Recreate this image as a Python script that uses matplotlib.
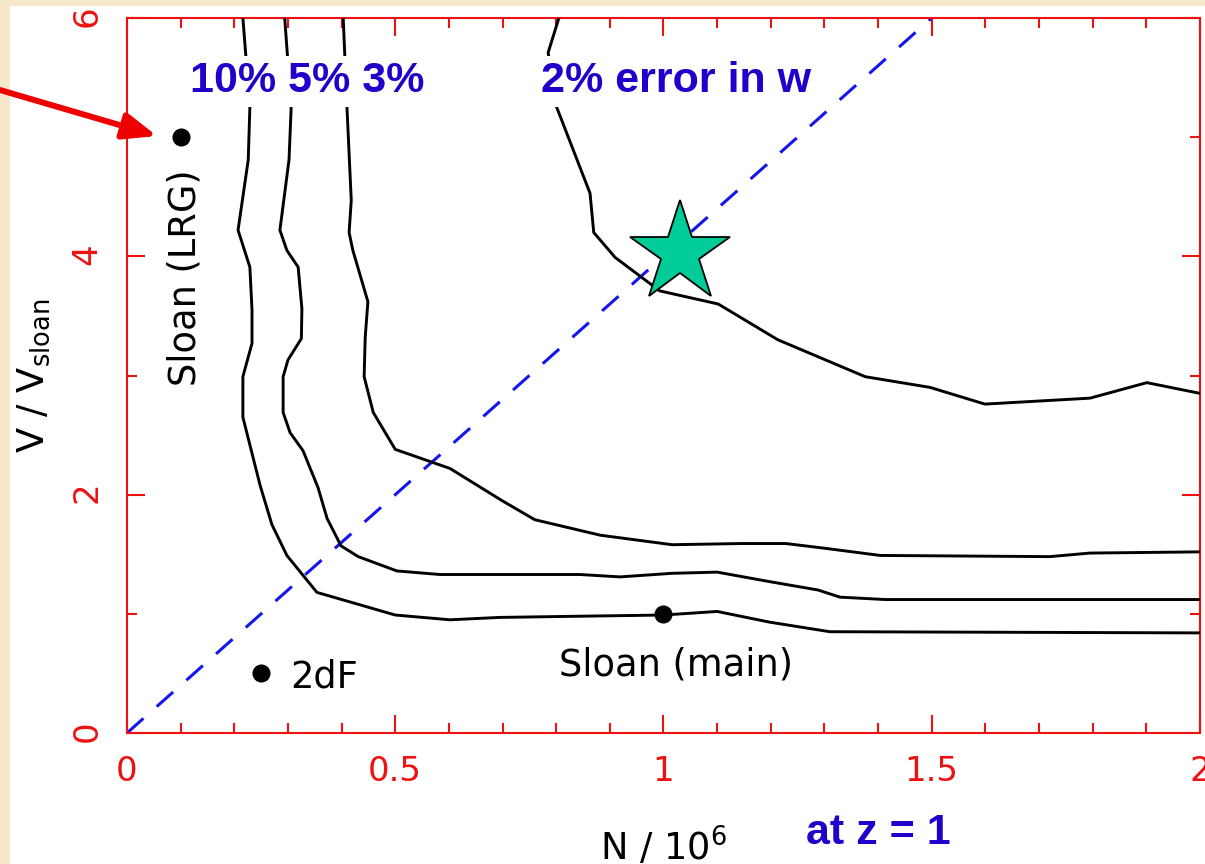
import matplotlib.pyplot as plt
from matplotlib.patches import Rectangle
from matplotlib.ticker import MultipleLocator, FuncFormatter

# Error contours for w in the survey size / volume plane (z = 1)
n_2pc = [0.805, 0.785, 0.801, 0.863, 0.870, 0.910, 0.993, 1.102, 1.213, 1.376, 1.497, 1.599, 1.795, 1.901, 2.0]
v_2pc = [6.0, 5.71, 5.25, 4.53, 4.20, 3.99, 3.71, 3.60, 3.30, 2.99, 2.90, 2.76, 2.81, 2.94, 2.85]

n_3pc = [0.403, 0.410, 0.418, 0.414, 0.421, 0.449, 0.444, 0.442, 0.459, 0.500, 0.602, 0.699, 0.760,
         0.882, 1.016, 1.146, 1.228, 1.301, 1.404, 1.720, 1.795, 2.0]
v_3pc = [6.0, 5.25, 4.47, 4.20, 4.05, 3.62, 3.32, 2.99, 2.69, 2.38, 2.22, 1.95, 1.79,
         1.66, 1.58, 1.59, 1.59, 1.55, 1.49, 1.48, 1.51, 1.52]

n_5pc = [0.294, 0.306, 0.302, 0.285, 0.298, 0.319, 0.326, 0.325, 0.300, 0.291, 0.291, 0.304, 0.328,
         0.356, 0.373, 0.399, 0.431, 0.503, 0.583, 0.844, 0.919, 1.016, 1.100, 1.198, 1.288,
         1.329, 1.413, 2.0]
v_5pc = [6.0, 5.25, 4.81, 4.22, 4.05, 3.91, 3.56, 3.31, 3.13, 2.99, 2.69, 2.52, 2.37,
         2.06, 1.80, 1.57, 1.48, 1.36, 1.33, 1.33, 1.31, 1.34, 1.35, 1.27, 1.20,
         1.14, 1.12, 1.12]

n_10pc = [0.216, 0.229, 0.226, 0.207, 0.229, 0.233, 0.233, 0.216, 0.216, 0.248, 0.270, 0.298,
          0.354, 0.500, 0.602, 0.695, 0.844, 1.0, 1.100, 1.198, 1.310, 2.0]
v_10pc = [6.0, 5.25, 4.81, 4.22, 3.91, 3.55, 3.27, 2.99, 2.65, 2.08, 1.75, 1.49,
          1.18, 0.99, 0.95, 0.97, 0.98, 0.99, 1.02, 0.93, 0.85, 0.84]

# Existing surveys
survey_names = ['2dF', 'Sloan (main)', 'Sloan (LRG)']
survey_n = [0.25, 1.0, 0.1]
survey_v = [0.5, 1.0, 5.0]

# Proposed survey and the V ~ N line through it
target_n = [1.03]
target_v = [4.03]
diag_n = [0.0, 1.5]
diag_v = [0.0, 6.0]

RED = '#ee1111'
BLUE = '#2200cc'

plt.rcParams['font.family'] = ['DejaVu Sans']
plt.rcParams['mathtext.default'] = 'regular'

fig = plt.figure(figsize=(12.05, 8.64), dpi=100, facecolor='#f7e8cb')
# white page behind the plot, leaving a thin border on the left and top
fig.patches.append(Rectangle((10 / 1205, 0), 1, 1 - 6 / 864, transform=fig.transFigure,
                             facecolor='white', edgecolor='none', zorder=-5))

ax = fig.add_axes([127 / 1205, 131 / 864, 1073 / 1205, 715 / 864])
ax.set_facecolor('white')

for n, v in [(n_10pc, v_10pc), (n_5pc, v_5pc), (n_3pc, v_3pc), (n_2pc, v_2pc)]:
    ax.plot(n, v, color='black', lw=2.1, zorder=3)

ax.plot(diag_n, diag_v, color='#1515ee', lw=2.2, linestyle=(0, (7.2, 5.8)), zorder=2)

ax.plot(survey_n, survey_v, 'o', color='black', ms=12, zorder=4)
ax.plot(target_n, target_v, marker='*', color='#00cc99', mec='black', mew=1.3, ms=76,
        linestyle='none', zorder=5)

ax.text(0.304, 0.5, survey_names[0], fontsize=26.5, ha='left', va='center_baseline')
ax.text(1.023, 0.57, survey_names[1], fontsize=26.5, ha='center', va='center')
ax.text(0.108, 3.82, survey_names[2], fontsize=26.5, ha='center', va='center', rotation=90)

# Contour labels sit on white boxes that hide the curves behind them
box = dict(facecolor='white', edgecolor='none', pad=4)
ax.text(0.117, 5.47, '10% 5% 3%', fontsize=31, fontweight='bold', color=BLUE,
        family='Liberation Sans', ha='left', va='center', bbox=box, zorder=6)
ax.text(0.772, 5.47, '2% error in w', fontsize=31, fontweight='bold', color=BLUE,
        family='Liberation Sans', ha='left', va='center', bbox=box, zorder=6)
fig.text(806 / 1205, 31 / 864, 'at z = 1', fontsize=31, fontweight='bold', color=BLUE,
         family='Liberation Sans', ha='left', va='center')

ax.set_xlim(0, 2)
ax.set_ylim(0, 6)
ax.xaxis.set_major_locator(MultipleLocator(0.5))
ax.xaxis.set_minor_locator(MultipleLocator(0.1))
ax.yaxis.set_major_locator(MultipleLocator(2))
ax.yaxis.set_minor_locator(MultipleLocator(1))
ax.xaxis.set_major_formatter(FuncFormatter(lambda x, pos: '%g' % x))

for side in ax.spines.values():
    side.set_color(RED)
    side.set_linewidth(1.5)
ax.tick_params(which='both', direction='in', top=True, right=True, color=RED,
               labelcolor=RED, labelsize=24.5, width=1.5)
ax.tick_params(which='major', length=13)
ax.tick_params(which='minor', length=7)
ax.tick_params(axis='x', pad=16)
ax.tick_params(axis='y', labelrotation=90, pad=17)

ax.set_xlabel('N / 10$^6$', fontsize=26.5, labelpad=27)
ax.set_ylabel('V / V$_{sloan}$', fontsize=26.5, labelpad=13)

# Arrow pointing at the LRG sample
ax.annotate('', xy=(157, 728), xycoords='figure pixels', xytext=(0, 774),
            textcoords='figure pixels', annotation_clip=False,
            arrowprops=dict(arrowstyle='-|>,head_length=20,head_width=8', mutation_scale=1,
                            color='#ee0000', lw=4.3, shrinkA=0, shrinkB=0))

plt.savefig('out.png', dpi=100, facecolor=fig.get_facecolor())
